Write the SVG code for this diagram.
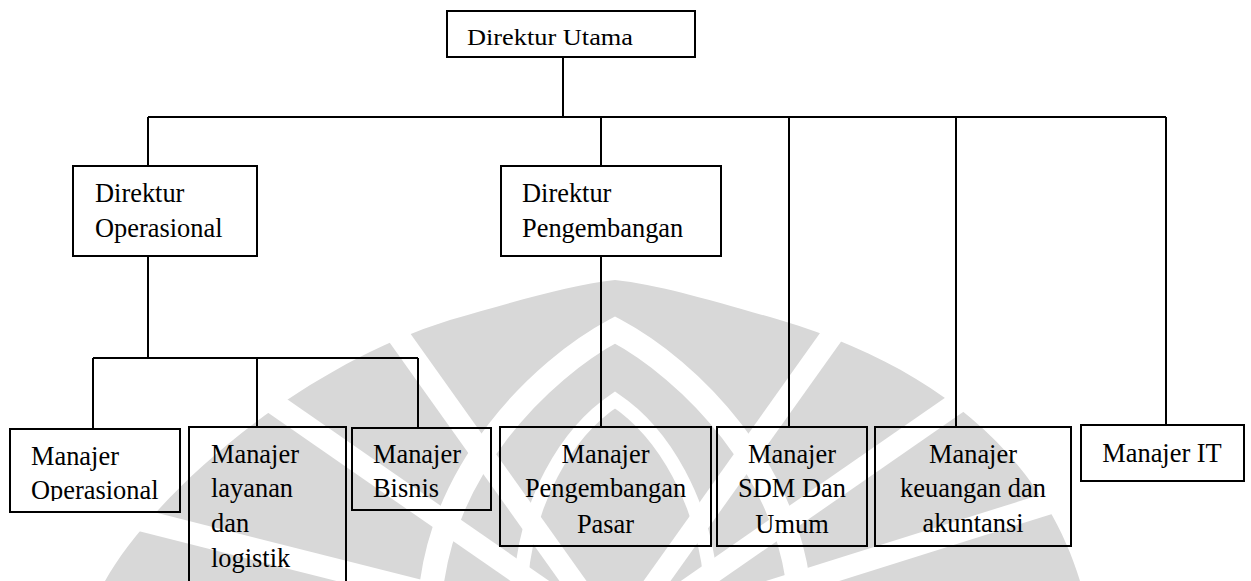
<svg xmlns="http://www.w3.org/2000/svg" width="1251" height="581" viewBox="0 0 1251 581">
  <style>
    .box { fill: none; stroke: #000; stroke-width: 2; }
    .line { fill: none; stroke: #000; stroke-width: 2; }
    .t { font-family: "Liberation Serif", "Times New Roman", serif; font-size: 26.4px; fill: #000; }
    .c { text-anchor: middle; }
    .wm { fill: #d8d8d8; }
    .gap { fill: none; stroke: #fff; }
  </style>
  <defs>
    <clipPath id="clipOps"><rect x="11" y="430" width="168" height="71"/></clipPath>
  </defs>

  <!-- faint emblem watermark behind the chart -->
  <g id="watermark">
    <path class="wm" d="M105 581 C150 500 290 370 450 320 C520 300 570 285 615 280 C660 285 710 300 780 320 C930 365 1040 450 1080 581 Z"/>
    <!-- radial gaps between the rays -->
    <path class="gap" stroke-width="22" d="M615 640 L240 380"/>
    <path class="gap" stroke-width="22" d="M615 640 L380 310"/>
    <path class="gap" stroke-width="22" d="M615 640 L850 310"/>
    <path class="gap" stroke-width="22" d="M615 640 L990 380"/>
    <path class="gap" stroke-width="22" d="M615 640 L140 520"/>
    <path class="gap" stroke-width="22" d="M615 640 L1060 500"/>
    <!-- rings around the central flame -->
    <path class="gap" stroke-width="24" d="M430 600 C440 470 540 370 615 330 C690 370 790 470 800 600"/>
    <path class="gap" stroke-width="14" d="M520 600 C522 500 570 430 615 400 C660 430 708 500 712 600"/>
  </g>

  <g id="connectors">
    <path class="line" d="M563 57 V117"/>
    <path class="line" d="M148 117 H1166"/>
    <path class="line" d="M148 117 V166"/>
    <path class="line" d="M601 117 V166"/>
    <path class="line" d="M789 117 V427"/>
    <path class="line" d="M956 117 V427"/>
    <path class="line" d="M1166 117 V425"/>
    <path class="line" d="M148 256 V358"/>
    <path class="line" d="M93 358 H418"/>
    <path class="line" d="M93 358 V429"/>
    <path class="line" d="M257 358 V427"/>
    <path class="line" d="M418 358 V428"/>
    <path class="line" d="M601 256 V427"/>
  </g>

  <g id="direktur-utama">
    <rect class="box" x="447" y="11" width="248" height="46"/>
    <text class="t" x="467" y="45" textLength="166" lengthAdjust="spacingAndGlyphs" style="font-size:23px">Direktur Utama</text>
  </g>

  <g id="direktur-operasional">
    <rect class="box" x="73" y="166" width="184" height="90"/>
    <text class="t" x="95" y="202">Direktur</text>
    <text class="t" x="95" y="237">Operasional</text>
  </g>

  <g id="direktur-pengembangan">
    <rect class="box" x="501" y="166" width="220" height="90"/>
    <text class="t" x="522" y="202">Direktur</text>
    <text class="t" x="522" y="237">Pengembangan</text>
  </g>

  <g id="manajer-operasional">
    <rect class="box" x="10" y="429" width="170" height="83"/>
    <g clip-path="url(#clipOps)">
      <text class="t" x="31" y="465">Manajer</text>
      <text class="t" x="31" y="499">Operasional</text>
    </g>
  </g>

  <g id="manajer-layanan">
    <rect class="box" x="189" y="427" width="157" height="170"/>
    <text class="t" x="211" y="463">Manajer</text>
    <text class="t" x="211" y="497">layanan</text>
    <text class="t" x="211" y="532">dan</text>
    <text class="t" x="211" y="567">logistik</text>
  </g>

  <g id="manajer-bisnis">
    <rect class="box" x="352" y="428" width="139" height="82"/>
    <text class="t" x="373" y="463">Manajer</text>
    <text class="t" x="373" y="497">Bisnis</text>
  </g>

  <g id="manajer-pasar">
    <rect class="box" x="500" y="427" width="211" height="119"/>
    <text class="t c" x="605.5" y="463">Manajer</text>
    <text class="t c" x="605.5" y="497">Pengembangan</text>
    <text class="t c" x="605.5" y="533">Pasar</text>
  </g>

  <g id="manajer-sdm">
    <rect class="box" x="717" y="427" width="150" height="119"/>
    <text class="t c" x="792" y="463">Manajer</text>
    <text class="t c" x="792" y="497">SDM Dan</text>
    <text class="t c" x="792" y="533">Umum</text>
  </g>

  <g id="manajer-keuangan">
    <rect class="box" x="875" y="427" width="196" height="119"/>
    <text class="t c" x="973" y="463">Manajer</text>
    <text class="t c" x="973" y="497">keuangan dan</text>
    <text class="t c" x="973" y="532">akuntansi</text>
  </g>

  <g id="manajer-it">
    <rect class="box" x="1081" y="425" width="163" height="56"/>
    <text class="t c" x="1162" y="462">Manajer IT</text>
  </g>
</svg>
